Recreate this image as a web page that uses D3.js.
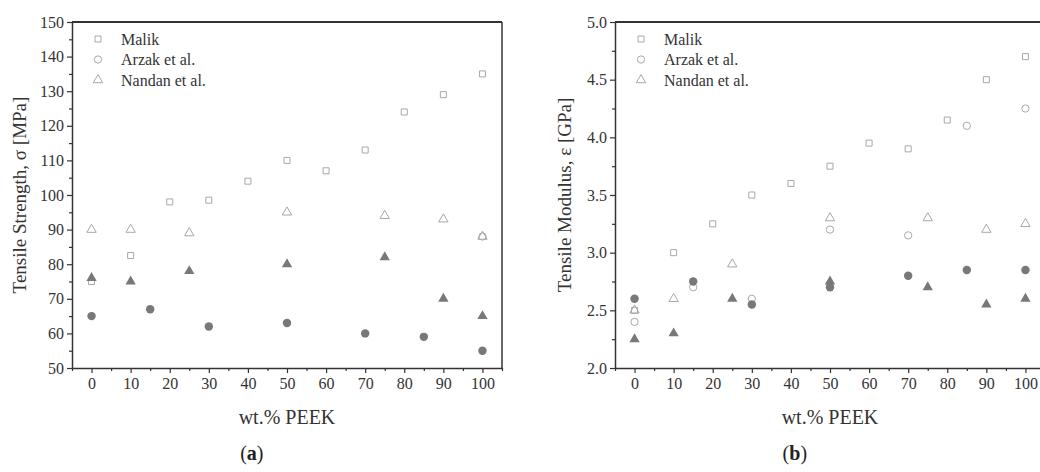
<!DOCTYPE html>
<html>
<head>
<meta charset="utf-8">
<script src="https://cdn.jsdelivr.net/npm/d3@7"></script>
<style>
	body { margin: 0; background: #fff; }
	svg { display: block; }
</style>
</head>
<body>
<div id="chart-area"></div>
<script>
// wt.% PEEK positions per source
var malikX = [0, 10, 20, 30, 40, 50, 60, 70, 80, 90, 100];
var arzakX = [0, 15, 30, 50, 70, 85, 100];
var nandanX = [0, 10, 25, 50, 75, 90, 100];

// (a) tensile strength, MPa
var malikStrength = [75, 82.5, 98, 98.5, 104, 110, 107, 113, 124, 129, 135];
var arzakStrengthX = [100];
var arzakStrengthOpen = [88];
var arzakStrengthFilled = [65, 67, 62, 63, 60, 59, 55];
var nandanStrengthOpen = [90, 90, 89, 95, 94, 93, 88];
var nandanStrengthFilled = [76, 75, 78, 80, 82, 70, 65];

// (b) tensile modulus, GPa
var malikModulus = [2.5, 3.0, 3.25, 3.5, 3.6, 3.75, 3.95, 3.9, 4.15, 4.5, 4.7];
var arzakModulusOpen = [2.4, 2.7, 2.6, 3.2, 3.15, 4.1, 4.25];
var arzakModulusFilled = [2.6, 2.75, 2.55, 2.7, 2.8, 2.85, 2.85];
var nandanModulusOpen = [2.5, 2.6, 2.9, 3.3, 3.3, 3.2, 3.25];
var nandanModulusFilled = [2.25, 2.3, 2.6, 2.75, 2.7, 2.55, 2.6];

var xTicks = [0, 10, 20, 30, 40, 50, 60, 70, 80, 90, 100];
var legendNames = ["Malik", "Arzak et al.", "Nandan et al."];

var serif = "'Liberation Serif', 'DejaVu Serif', 'Times New Roman', serif";
var openColor = "#a8a8a8",
	fillColor = "#787878",
	ink = "#333";

var svg = d3.select("#chart-area").append("svg")
	.attr("width", 1040)
	.attr("height", 472)
	.style("font-family", serif);

function zip(xs, ys) {
	return xs.map((x, i) => ({x: x, y: ys[i]}));
}

function drawPanel(opt) {
	var margin = opt.margin;
	var width = 430, height = 346;
	var g = svg.append("g")
		.attr("transform", "translate(" + margin.left + "," + margin.top + ")");

	var x = d3.scaleLinear().domain([-5, 105]).range([0, width]);
	var y = d3.scaleLinear().domain(opt.yDomain).range([height, 0]);

	// minor ticks
	g.append("g")
		.attr("transform", "translate(0," + height + ")")
		.call(d3.axisBottom(x).tickValues(d3.range(-5, 106, 10)).tickSize(3).tickFormat(""))
		.select(".domain").remove();
	g.append("g")
		.call(d3.axisLeft(y).tickValues(opt.yMinor).tickSize(3).tickFormat(""))
		.select(".domain").remove();

	// major ticks
	g.append("g")
		.attr("class", "x-axis")
		.attr("transform", "translate(0," + height + ")")
		.call(d3.axisBottom(x).tickValues(xTicks).tickSize(5).tickSizeOuter(0).tickPadding(5));
	g.append("g")
		.attr("class", "y-axis")
		.call(d3.axisLeft(y).tickValues(opt.yTicks).tickSize(5).tickSizeOuter(0).tickPadding(3)
			.tickFormat(opt.yFormat));

	g.selectAll("g.tick text")
		.attr("font-family", serif)
		.attr("font-size", 16)
		.attr("fill", ink);
	g.selectAll(".domain").attr("stroke", ink).attr("stroke-width", 1.5);
	g.selectAll("g.tick line").attr("stroke", ink).attr("stroke-width", 1.2);

	// frame top / right
	g.append("line")
		.attr("x1", 0).attr("x2", width).attr("y1", 0).attr("y2", 0)
		.attr("stroke", ink).attr("stroke-width", 1.8);
	g.append("line")
		.attr("x1", width).attr("x2", width).attr("y1", 0).attr("y2", height)
		.attr("stroke", ink).attr("stroke-width", 1.5);

	var sym = {
		square: d3.symbol().type(d3.symbolSquare).size(36),
		circle: d3.symbol().type(d3.symbolCircle).size(42),
		circleFilled: d3.symbol().type(d3.symbolCircle).size(56),
		triangle: d3.symbol().type(d3.symbolTriangle).size(38),
		triangleFilled: d3.symbol().type(d3.symbolTriangle).size(46)
	};

	opt.series.forEach(s => {
		g.selectAll(null)
			.data(s.data)
			.enter().append("path")
			.attr("d", sym[s.shape])
			.attr("transform", d => "translate(" + x(d.x) + "," + y(d.y) + ")")
			.attr("fill", s.filled ? fillColor : "none")
			.attr("stroke", s.filled ? "none" : openColor)
			.attr("stroke-width", 1);
	});

	// legend
	var legendShapes = ["square", "circle", "triangle"];
	legendNames.forEach((name, i) => {
		var ly = 17 + i * 20.5;
		g.append("path")
			.attr("d", sym[legendShapes[i]])
			.attr("transform", "translate(" + opt.legendX + "," + ly + ")")
			.attr("fill", "none")
			.attr("stroke", openColor);
		g.append("text")
			.attr("x", opt.legendX + 23)
			.attr("y", ly + 5.5)
			.attr("fill", ink)
			.style("font-size", "16px")
			.text(name);
	});

	// axis titles
	g.append("text")
		.attr("text-anchor", "middle")
		.attr("x", x(50))
		.attr("y", height + 56)
		.attr("fill", ink)
		.style("font-size", "20px")
		.text("wt.% PEEK");

	g.append("text")
		.attr("text-anchor", "middle")
		.attr("fill", ink)
		.attr("transform", "translate(" + opt.yTitleX + "," + (height / 2) + ") rotate(-90)")
		.style("font-size", "19px")
		.text(opt.yTitle);

	var cap = g.append("text")
		.attr("text-anchor", "middle")
		.attr("x", x(opt.capX))
		.attr("y", height + 92)
		.attr("fill", "#222")
		.style("font-size", "20px");
	cap.append("tspan").text("(");
	cap.append("tspan").style("font-weight", "bold").text(opt.cap);
	cap.append("tspan").text(")");
}

drawPanel({
	margin: {left: 72, top: 22},
	yDomain: [50, 150],
	yTicks: d3.range(50, 151, 10),
	yMinor: d3.range(55, 150, 10),
	yFormat: d3.format("d"),
	yTitle: "Tensile Strength, σ [MPa]",
	yTitleX: -46,
	legendX: 26,
	capX: 41,
	cap: "a",
	series: [
		{data: zip(malikX, malikStrength), shape: "square", filled: false},
		{data: zip(nandanX, nandanStrengthOpen), shape: "triangle", filled: false},
		{data: zip(arzakStrengthX, arzakStrengthOpen), shape: "circle", filled: false},
		{data: zip(arzakX, arzakStrengthFilled), shape: "circleFilled", filled: true},
		{data: zip(nandanX, nandanStrengthFilled), shape: "triangleFilled", filled: true}
	]
});

drawPanel({
	margin: {left: 615, top: 22},
	yDomain: [2.0, 5.0],
	yTicks: d3.range(2.0, 5.01, 0.5),
	yMinor: d3.range(2.25, 5.0, 0.5),
	yFormat: d3.format(".1f"),
	yTitle: "Tensile Modulus, ε [GPa]",
	yTitleX: -44,
	legendX: 26,
	capX: 41,
	cap: "b",
	series: [
		{data: zip(malikX, malikModulus), shape: "square", filled: false},
		{data: zip(nandanX, nandanModulusOpen), shape: "triangle", filled: false},
		{data: zip(arzakX, arzakModulusOpen), shape: "circle", filled: false},
		{data: zip(arzakX, arzakModulusFilled), shape: "circleFilled", filled: true},
		{data: zip(nandanX, nandanModulusFilled), shape: "triangleFilled", filled: true}
	]
});
</script>
</body>
</html>
